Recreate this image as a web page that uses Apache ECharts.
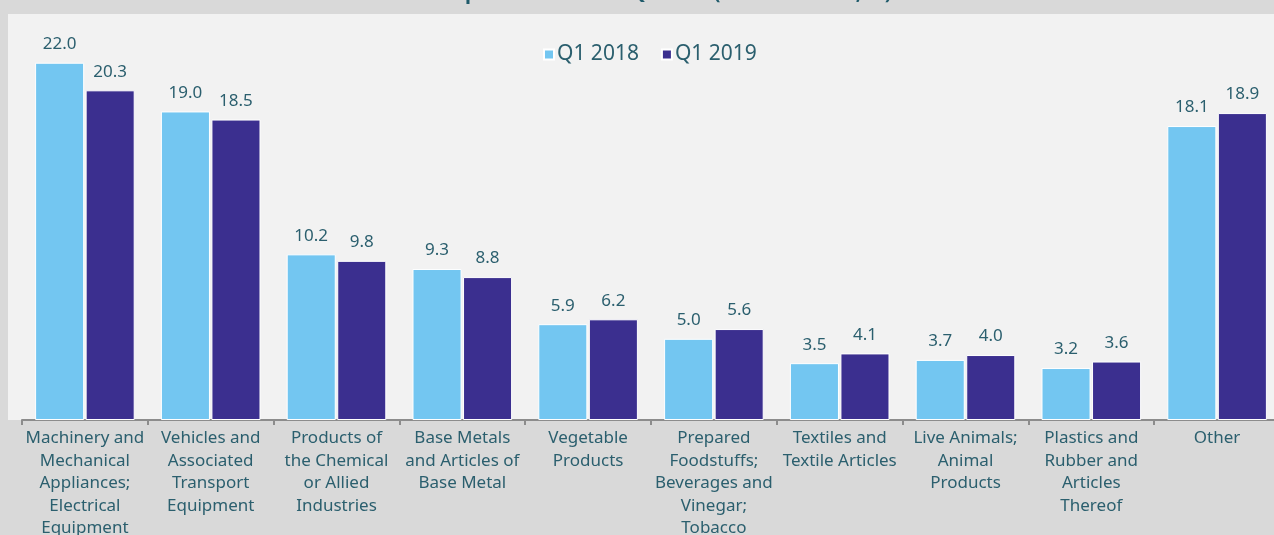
<!DOCTYPE html>
<html>
<head>
<meta charset="utf-8">
<script src="https://cdn.jsdelivr.net/npm/echarts@6/dist/echarts.min.js"></script>
<style>
html,body{margin:0;padding:0;background:#d9d9d9;}
#c{width:1274px;height:535px;}
</style>
</head>
<body>
<div id="c"></div>
<script>
const titleText = 'Main Import Products in Q1 2019 (Share in Total, %)';
const categories = [
  'Machinery and\nMechanical\nAppliances;\nElectrical\nEquipment',
  'Vehicles and\nAssociated\nTransport\nEquipment',
  'Products of\nthe Chemical\nor Allied\nIndustries',
  'Base Metals\nand Articles of\nBase Metal',
  'Vegetable\nProducts',
  'Prepared\nFoodstuffs;\nBeverages and\nVinegar;\nTobacco',
  'Textiles and\nTextile Articles',
  'Live Animals;\nAnimal\nProducts',
  'Plastics and\nRubber and\nArticles\nThereof',
  'Other'
];
const seriesNames = ['Q1 2018', 'Q1 2019'];
const q12018 = [22.0, 19.0, 10.2, 9.3, 5.9, 5.0, 3.5, 3.7, 3.2, 18.1];
const q12019 = [20.3, 18.5, 9.8, 8.8, 6.2, 5.6, 4.1, 4.0, 3.6, 18.9];
const colors = ['#73C6F1', '#3B2F8F'];

const textColor = '#2B5F6E';
const font = 'Noto Sans';

const chart = echarts.init(document.getElementById('c'), null, {renderer: 'canvas'});
function mkSeries(name, data, color) {
  return {
    name: name,
    type: 'bar',
    data: data,
    barWidth: '39%',
    barGap: '3%',
    itemStyle: {color: color, borderColor: '#ffffff', borderWidth: 1},
    label: {
      show: true,
      position: 'top',
      distance: 10,
      color: textColor,
      fontFamily: font,
      fontSize: 17,
      formatter: p => Number(p.value).toFixed(1)
    }
  };
}
chart.setOption({
  backgroundColor: '#d9d9d9',
  animation: false,
  title: {
    text: titleText,
    left: 'center',
    top: -22,
    textStyle: {color: '#1F5B6B', fontFamily: font, fontWeight: 'bold', fontSize: 20}
  },
  graphic: [{
    type: 'rect',
    z: -10,
    shape: {x: 8, y: 14, width: 1270, height: 406},
    style: {fill: '#f2f2f2'}
  }],
  legend: {
    data: seriesNames,
    top: 39,
    left: 538,
    itemWidth: 10,
    itemHeight: 10,
    itemGap: 22,
    icon: 'rect',
    textStyle: {color: textColor, fontFamily: font, fontSize: 21, padding: [0, 0, 0, -2]}
  },
  grid: {left: 22, top: 14, width: 1258, bottom: 115, containLabel: false, outerBoundsMode: 'none'},
  xAxis: {
    type: 'category',
    data: categories,
    axisLine: {lineStyle: {color: '#8c8c8c', width: 2}},
    axisTick: {show: true, length: 5, lineStyle: {color: '#8c8c8c', width: 2}, interval: 0},
    axisLabel: {
      interval: 0,
      color: textColor,
      fontFamily: font,
      fontSize: 17,
      lineHeight: 22.5,
      margin: 7,
      align: 'center'
    }
  },
  yAxis: {
    type: 'value',
    min: 0,
    max: 25,
    show: false
  },
  series: [
    mkSeries(seriesNames[0], q12018, colors[0]),
    mkSeries(seriesNames[1], q12019, colors[1])
  ]
});
</script>
</body>
</html>
